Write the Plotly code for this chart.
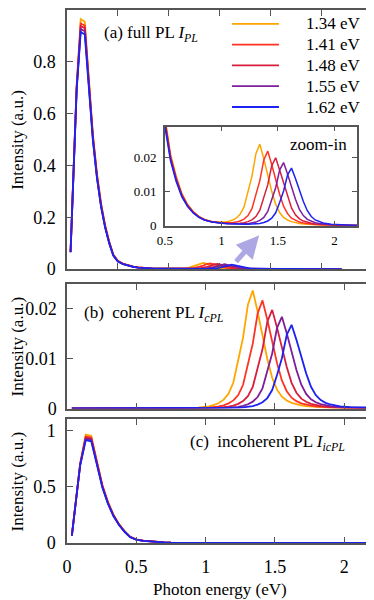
import plotly.graph_objects as go

# photon energy grid (eV): low part carries the incoherent peak, high part the coherent peaks
E_LOW = [0.035, 0.095, 0.135, 0.175, 0.215, 0.255, 0.295, 0.335, 0.375, 0.415,
         0.455, 0.5, 0.55, 0.6, 0.65, 0.7, 0.75, 0.8, 0.85, 0.92]
E_HIGH = [0.955, 0.99, 1.025, 1.06, 1.095, 1.13, 1.165, 1.2, 1.235, 1.27,
          1.305, 1.34, 1.375, 1.41, 1.445, 1.48, 1.515, 1.55, 1.585, 1.62,
          1.655, 1.69, 1.725, 1.76, 1.795, 1.83, 1.865, 1.9, 1.97, 2.04,
          2.11, 2.2, 2.45, 2.7]

LABELS = ["1.34 eV", "1.41 eV", "1.48 eV", "1.55 eV", "1.62 eV"]
COLORS = ["#FFA500", "#FF3322", "#D81E3C", "#7E1E9C", "#1E22F0"]

# incoherent PL on E_LOW
INCOH_134 = [0.067, 0.71, 0.965, 0.955, 0.735, 0.52, 0.37, 0.255, 0.17, 0.107,
             0.057, 0.032, 0.021, 0.0145, 0.0095, 0.0063, 0.0042, 0.0028, 0.0019, 0.0012]
INCOH_141 = [0.066, 0.705, 0.948, 0.94, 0.725, 0.512, 0.362, 0.25, 0.166, 0.104,
             0.055, 0.031, 0.0203, 0.014, 0.0092, 0.0061, 0.0041, 0.0027, 0.0018, 0.0012]
INCOH_148 = [0.066, 0.70, 0.938, 0.93, 0.718, 0.507, 0.358, 0.246, 0.164, 0.103,
             0.054, 0.0305, 0.02, 0.0137, 0.009, 0.006, 0.004, 0.0026, 0.0018, 0.0011]
INCOH_155 = [0.065, 0.695, 0.927, 0.918, 0.71, 0.50, 0.354, 0.243, 0.162, 0.101,
             0.053, 0.03, 0.0195, 0.0134, 0.0088, 0.0058, 0.0039, 0.0026, 0.0017, 0.0011]
INCOH_162 = [0.065, 0.69, 0.915, 0.905, 0.70, 0.495, 0.35, 0.24, 0.16, 0.10,
             0.052, 0.029, 0.019, 0.013, 0.0085, 0.0057, 0.0038, 0.0025, 0.0017, 0.0011]
# incoherent tail on E_HIGH (same for all)
INCOH_TAIL = [0.0009, 0.0008, 0.0007, 0.0006, 0.00052, 0.00045, 0.0004, 0.00035, 0.0003, 0.00027,
              0.00024, 0.00021, 0.00019, 0.00017, 0.00015, 0.00013, 0.00012, 0.00011, 0.0001, 0.00009,
              0.00008, 0.00007, 0.00006, 0.00006, 0.00005, 0.00005, 0.00004, 0.00004, 0.00003, 0.00003,
              0.00002, 0.00002, 0.00001, 0.0]

# coherent PL: zero on E_LOW, peaks on E_HIGH
COH_LOW = [0.0, 0.0, 0.0, 0.0, 0.0, 0.0, 0.0, 0.0, 0.0, 0.0,
           0.0, 0.0, 0.0, 0.0, 0.0, 0.0, 0.0, 0.0, 0.0, 0.0]
COH_134 = [0.00021, 0.00031, 0.00045, 0.00071, 0.00111, 0.00178, 0.00296, 0.00521, 0.00948, 0.01422,
           0.02086, 0.0237, 0.01943, 0.01469, 0.00995, 0.00616, 0.00379, 0.00237, 0.00161, 0.00114,
           0.00083, 0.00062, 0.00047, 0.00038, 0.00031, 0.00025, 0.0002, 0.00015, 0.00011, 0.00007,
           0.00005, 0.00004, 0.00001, 0.0]
COH_141 = [0.00009, 0.00013, 0.0002, 0.00028, 0.00041, 0.00065, 0.00102, 0.00163, 0.00271, 0.00477,
           0.00868, 0.01302, 0.0191, 0.0217, 0.0178, 0.01345, 0.00911, 0.00564, 0.00347, 0.00217,
           0.00148, 0.00104, 0.00076, 0.00056, 0.00043, 0.00035, 0.00028, 0.00023, 0.00014, 0.0001,
           0.00007, 0.00004, 0.00002, 0.0]
COH_148 = [0.00004, 0.00006, 0.00008, 0.00012, 0.00018, 0.00026, 0.00038, 0.00059, 0.00093, 0.00149,
           0.00248, 0.00436, 0.00792, 0.01188, 0.01742, 0.0198, 0.01624, 0.01228, 0.00832, 0.00515,
           0.00317, 0.00198, 0.00135, 0.00095, 0.00069, 0.00051, 0.0004, 0.00032, 0.00021, 0.00013,
           0.00009, 0.00005, 0.00002, 0.0]
COH_155 = [0.00002, 0.00003, 0.00004, 0.00006, 0.00007, 0.00011, 0.00017, 0.00024, 0.00035, 0.00055,
           0.00086, 0.00138, 0.0023, 0.00405, 0.00736, 0.01104, 0.01619, 0.0184, 0.01509, 0.01141,
           0.00773, 0.00478, 0.00294, 0.00184, 0.00125, 0.00088, 0.00064, 0.00048, 0.00029, 0.00019,
           0.00012, 0.00007, 0.00002, 0.0]
COH_162 = [0.00001, 0.00001, 0.00002, 0.00003, 0.00003, 0.00005, 0.00007, 0.0001, 0.00015, 0.00022,
           0.00032, 0.0005, 0.00079, 0.00126, 0.0021, 0.0037, 0.00672, 0.01008, 0.01478, 0.0168,
           0.01378, 0.01042, 0.00706, 0.00437, 0.00269, 0.00168, 0.00114, 0.00081, 0.00044, 0.00027,
           0.00018, 0.00009, 0.00003, 0.0]

energy = E_LOW + E_HIGH
incoh = [INCOH_134 + INCOH_TAIL, INCOH_141 + INCOH_TAIL, INCOH_148 + INCOH_TAIL,
         INCOH_155 + INCOH_TAIL, INCOH_162 + INCOH_TAIL]
coh = [COH_LOW + COH_134, COH_LOW + COH_141, COH_LOW + COH_148,
       COH_LOW + COH_155, COH_LOW + COH_162]

FONT = "Liberation Serif"

fig = go.Figure()

for i in range(5):
    full = [a + b for a, b in zip(incoh[i], coh[i])]
    ln = dict(color=COLORS[i], width=1.8)
    fig.add_trace(go.Scatter(x=energy, y=full, mode="lines", line=ln, name=LABELS[i],
                             xaxis="x", yaxis="y"))
    fig.add_trace(go.Scatter(x=energy, y=full, mode="lines", line=dict(color=COLORS[i], width=1.5),
                             xaxis="x4", yaxis="y4"))
    fig.add_trace(go.Scatter(x=energy, y=coh[i], mode="lines", line=ln,
                             xaxis="x2", yaxis="y2"))
    fig.add_trace(go.Scatter(x=energy, y=incoh[i], mode="lines", line=ln,
                             xaxis="x3", yaxis="y3"))

ax = dict(showline=True, linecolor="#555", linewidth=1.5, mirror="ticks", ticks="inside",
          ticklen=6, tickcolor="#555", tickwidth=1, showgrid=False, zeroline=False,
          tickfont=dict(family=FONT, size=18))
ax_in = dict(ax, ticklen=5, tickfont=dict(family=FONT, size=13))

# the page body adds an 8px offset, so the figure is 8px smaller than the window
fig.update_layout(
    width=366, height=592,
    margin=dict(l=59, r=2, t=0, b=57),
    paper_bgcolor="white", plot_bgcolor="white",
    font=dict(family=FONT, size=17, color="black"),
    showlegend=False,
    xaxis=dict(ax, domain=[0, 1], range=[0, 3], dtick=0.5, showticklabels=False, anchor="y"),
    yaxis=dict(ax, domain=[0.514, 1], range=[0, 1], dtick=0.2, ticklabelstandoff=6, anchor="x"),
    xaxis2=dict(ax, domain=[0, 1], range=[0, 2.2], dtick=0.5, showticklabels=False, anchor="y2"),
    yaxis2=dict(ax, domain=[0.2523, 0.486], range=[0, 0.025], dtick=0.01, ticklabelstandoff=5, anchor="x2"),
    xaxis3=dict(ax, domain=[0, 1], range=[0, 2.2], dtick=0.5, ticklabelstandoff=7, anchor="y3"),
    yaxis3=dict(ax, domain=[0, 0.2318], range=[0, 1.1], dtick=0.5, ticklabelstandoff=6, anchor="x3"),
    xaxis4=dict(ax_in, domain=[0.321, 0.951], range=[0.5, 2.2], dtick=0.5,
                ticklabelstandoff=2, anchor="y4"),
    yaxis4=dict(ax_in, domain=[0.595, 0.781], range=[0, 0.029], dtick=0.01,
                ticklabelstandoff=4, anchor="x4"),
)

# legend drawn as key lines + labels in the top-right of panel (a)
row_y = [0.974, 0.935, 0.896, 0.857, 0.818]
for i in range(5):
    fig.add_shape(type="line", xref="paper", yref="paper", x0=0.541, x1=0.695,
                  y0=row_y[i], y1=row_y[i], line=dict(color=COLORS[i], width=1.8))
    fig.add_annotation(text=LABELS[i], xref="paper", yref="paper", x=0.972, y=row_y[i],
                       xanchor="right", yanchor="middle", showarrow=False,
                       font=dict(family=FONT, size=17))

annotations = [
    dict(text="(a) full PL <i>I</i><sub><i>PL</i></sub>", x=0.115, y=0.955),
    dict(text="(b)\u00a0\u00a0coherent PL <i>I</i><sub><i>cPL</i></sub>", x=0.049, y=0.430),
    dict(text="(c)\u00a0\u00a0incoherent PL <i>I</i><sub><i>icPL</i></sub>", x=0.397, y=0.187),
    dict(text="zoom-in", x=0.725, y=0.748),
]
for a in annotations:
    fig.add_annotation(xref="paper", yref="paper", xanchor="left", yanchor="middle",
                       showarrow=False, font=dict(family=FONT, size=17), **a)

for yc in [(0.514 + 1) / 2, (0.2523 + 0.486) / 2, 0.2318 / 2]:
    fig.add_annotation(text="Intensity (a.u.)", xref="paper", yref="paper", x=-0.163, y=yc,
                       textangle=-90, showarrow=False, xanchor="center", yanchor="middle",
                       font=dict(family=FONT, size=17))

fig.add_annotation(text="Photon energy (eV)", xref="paper", yref="paper", x=0.5, y=-0.088,
                   showarrow=False, xanchor="center", yanchor="middle",
                   font=dict(family=FONT, size=17))

# arrow pointing to the zoom-in
fig.add_annotation(x=1.89, y=0.13, ax=1.65, ay=0.023, xref="x", yref="y", axref="x", ayref="y",
                   text="", showarrow=True, arrowhead=2, arrowsize=0.9, arrowwidth=5,
                   arrowcolor="rgba(120,110,210,0.6)")

fig.write_html("out.html")
